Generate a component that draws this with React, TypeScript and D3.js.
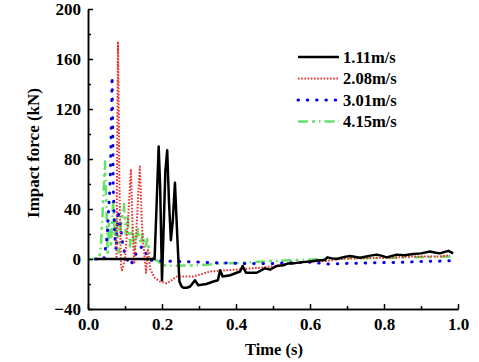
import React, { useEffect, useRef } from 'react';
import * as d3 from 'd3';

// values
const tBlack = [0.02, 0.18, 0.185, 0.191, 0.195, 0.2, 0.205, 0.209, 0.214, 0.219, 0.224, 0.229, 0.235, 0.241, 0.247, 0.253, 0.258, 0.267, 0.276, 0.289, 0.298, 0.32, 0.339, 0.351, 0.357, 0.364, 0.384, 0.411, 0.418, 0.427, 0.456, 0.478, 0.492, 0.51, 0.528, 0.541, 0.555, 0.58, 0.6, 0.62, 0.64, 0.647, 0.66, 0.672, 0.69, 0.708, 0.72, 0.735, 0.76, 0.78, 0.795, 0.807, 0.834, 0.855, 0.879, 0.9, 0.924, 0.94, 0.951, 0.974, 0.987];
const fBlack = [0, 0, 40, 90, 58, -17, 30, 70, 87, 45, 15, 30, 61, 20, -18, -22, -23, -23, -22, -17, -21, -20, -18, -17, -9, -14, -13, -10, -5.6, -11, -11, -7.5, -8.5, -5.6, -5, -3.5, -3.5, -2.5, -2, -1.2, -0.8, 1.3, 0.5, 0, 1.5, 2.4, 1.8, 1, 2.5, 3.5, 2.5, 1.3, 3.5, 3, 4, 4.5, 6, 5, 4.5, 6.5, 4.5];

const tRed = [0.02, 0.07, 0.077, 0.081, 0.085, 0.089, 0.092, 0.1, 0.108, 0.116, 0.121, 0.125, 0.132, 0.14, 0.147, 0.157, 0.162, 0.168, 0.18, 0.195, 0.213, 0.226, 0.24, 0.285, 0.33, 0.375, 0.42, 0.465, 0.51, 0.546, 0.6, 0.645, 0.68, 0.753, 0.816, 0.88, 0.95, 0.978];
const fRed = [0, 0, 0, 174, 60, -5, -9, 0, 30, 72, 20, -4, 30, 74, 20, -11, 8, -8, -15, -18, -19.5, -17, -14, -14, -10, -9, -8, -7, -5.5, -3.5, -2, -1.6, 0, 0.8, 1, 2, 2, 3];

const tBlue = [0.02, 0.043, 0.05, 0.053, 0.055, 0.058, 0.06, 0.062, 0.064, 0.065, 0.067, 0.068, 0.072, 0.076, 0.081, 0.087, 0.095, 0.105, 0.115, 0.125, 0.135, 0.148, 0.16, 0.17, 0.2, 0.24, 0.3, 0.35, 0.4, 0.5, 0.55, 0.6, 0.65, 0.7, 0.78, 0.85, 0.9, 0.95, 0.985];
const fBlue = [0, 0, 14, 23, 35, 50, 63, 90, 120, 146, 100, 60, 20, 7, 39, 28, 9, 0, -5, 1, 8, 10, 2, -1, -1.5, -2, -2.5, -3, -3.5, -3.5, -3, -2.6, -4, -3.5, -3, -2.6, -2, -1.7, -1.3];

const tGreen = [0, 0.03, 0.035, 0.04, 0.046, 0.05, 0.053, 0.057, 0.062, 0.068, 0.073, 0.078, 0.083, 0.09, 0.097, 0.102, 0.107, 0.113, 0.12, 0.127, 0.135, 0.142, 0.148, 0.155, 0.16, 0.167, 0.18, 0.19, 0.2, 0.23, 0.3, 0.36, 0.42, 0.5, 0.55, 0.6, 0.65, 0.7, 0.8, 0.9, 0.985];
const fGreen = [0, 0, 10, 40, 78, 40, 5, 30, 10, 46, 15, 35, 5, 30, 44, 20, 35, 10, 25, 8, 24, 12, 20, 8, 16, 5, 0, -2, -5, -5.5, -5, -3.5, -3, -1.5, -1, -0.5, 0, 0.5, 1, 1.5, 2];

const legendLabels = ['1.11m/s', '2.08m/s', '3.01m/s', '4.15m/s'];

const xTicks = [0, 0.2, 0.4, 0.6, 0.8, 1.0];
const yTicks = [-40, 0, 40, 80, 120, 160, 200];

const series = [
    { t: tBlack, f: fBlack, color: '#000000', width: 2.5, dash: null, cap: 'butt' },
    { t: tRed, f: fRed, color: '#ee3030', width: 2, dash: '1.6,1.6', cap: 'butt' },
    { t: tBlue, f: fBlue, color: '#0000ee', width: 3, dash: '0.5,8.8', cap: 'round' },
    { t: tGreen, f: fGreen, color: '#66e066', width: 2.5, dash: '10,4,3,4,1.5,4', cap: 'butt' },
];

const W = 479, H = 362;
const margins = { left: 88, right: 21, top: 9, bottom: 53 };
const font = 'Liberation Serif, Times New Roman, serif';

const Axis = ({ axis, translate }: any) => {
    const ref = useRef<SVGGElement>(null);
    useEffect(() => {
        const g = d3.select(ref.current);
        g.call(axis);
        g.attr('font-family', null).attr('font-size', null);
        g.select('.domain').attr('stroke-width', 1.5);
        g.selectAll('.tick line').attr('stroke-width', 1.5);
        g.selectAll('text')
            .style('font-family', font)
            .style('font-weight', 'bold')
            .style('font-size', '17px')
            .attr('fill', '#000');
    });
    return <g ref={ref} transform={translate} />;
};

export default function App() {
    const xScale = d3.scaleLinear().domain([0, 1]).range([margins.left, W - margins.right]);
    const yScale = d3.scaleLinear().domain([-40, 200]).range([H - margins.bottom, margins.top]);

    const xAxis = d3.axisBottom(xScale).tickValues(xTicks).tickSize(-5).tickPadding(9).tickSizeOuter(0)
        .tickFormat(d3.format('.1f') as any);
    const xMinor = d3.axisBottom(xScale).tickValues(d3.range(0.1, 1, 0.2)).tickSize(-3).tickSizeOuter(0).tickFormat(() => '');
    const yAxis = d3.axisLeft(yScale).tickValues(yTicks).tickSize(-5).tickPadding(7).tickSizeOuter(0)
        .tickFormat(d3.format('d') as any);
    const yMinor = d3.axisLeft(yScale).tickValues(d3.range(-20, 200, 40)).tickSize(-3).tickSizeOuter(0).tickFormat(() => '');

    const path = (s: any) => d3.line<[number, number]>()
        .x(d => xScale(d[0]))
        .y(d => yScale(d[1]))(s.t.map((t: number, i: number) => [t, s.f[i]]));

    const legendY = [57, 78.5, 100, 121.5];
    const textStyle = { fontFamily: font, fontWeight: 'bold' as const };

    return (
        <svg width={W} height={H} style={{ position: 'absolute', left: 0, top: 0, background: '#fff' }}>
            {series.slice().reverse().map((s, i) => (
                <path key={i} d={path(s) || ''} fill="none" stroke={s.color} strokeWidth={s.width}
                    strokeDasharray={s.dash || undefined} strokeLinecap={s.cap as any} strokeLinejoin="round" />
            ))}
            <Axis axis={xMinor} translate={`translate(0,${H - margins.bottom})`} />
            <Axis axis={yMinor} translate={`translate(${margins.left},0)`} />
            <Axis axis={xAxis} translate={`translate(0,${H - margins.bottom})`} />
            <Axis axis={yAxis} translate={`translate(${margins.left},0)`} />

            <text x={274} y={355} textAnchor="middle" style={{ ...textStyle, fontSize: '16.5px' }}>Time (s)</text>
            <text transform="translate(39,153)rotate(-90)" textAnchor="middle" style={{ ...textStyle, fontSize: '17px' }}>Impact force (kN)</text>

            {series.map((s, i) => (
                <g key={i}>
                    <line x1={298} x2={339} y1={legendY[i]} y2={legendY[i]} stroke={s.color} strokeWidth={s.width}
                        strokeDasharray={s.dash || undefined} strokeLinecap={s.cap as any} />
                    <text x={343} y={legendY[i]} dy="0.35em" style={{ ...textStyle, fontSize: '16.5px' }}>{legendLabels[i]}</text>
                </g>
            ))}
        </svg>
    );
}
